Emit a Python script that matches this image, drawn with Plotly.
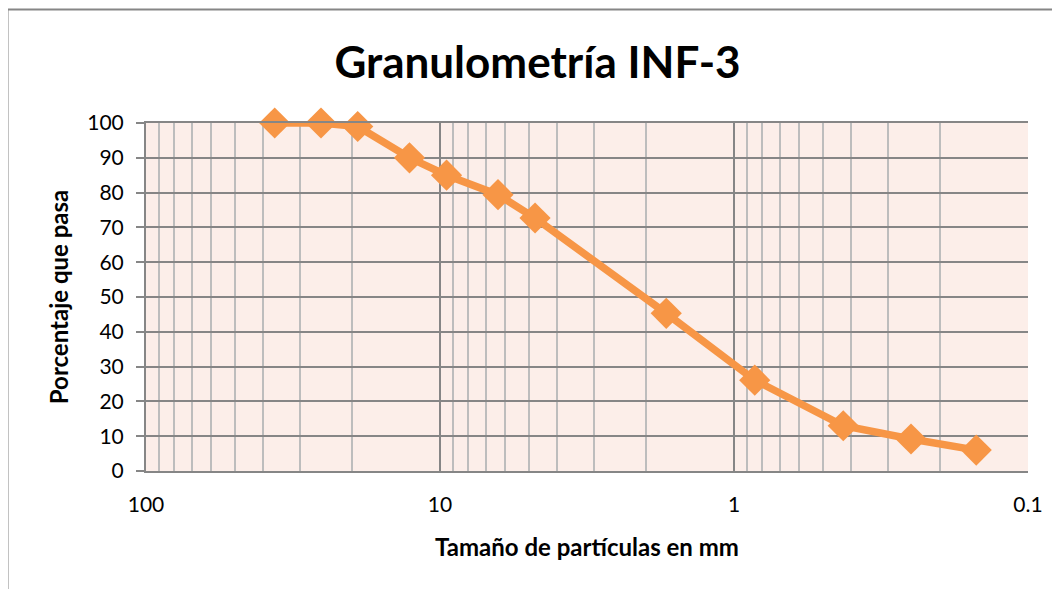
import plotly.graph_objects as go

# Data
particle_size_mm = [36.5, 25.4, 19.05, 12.7, 9.5, 6.35, 4.75, 1.7, 0.85, 0.425, 0.25, 0.15]
percent_passing = [100, 100, 99, 90, 85, 79.4, 72.7, 45.3, 26.1, 13.0, 9.2, 6.0]

title_text = "Granulometría INF-3"
x_title = "Tamaño de partículas en mm"
y_title = "Porcentaje que pasa"
x_tickvals = [100, 10, 1, 0.1]
x_ticktext = ["100", "10", "1", "0.1"]

# page is shown with an 8px body margin, so positions are shifted by 8px
W, H = 1060, 589
ML, MT = 138, 115
PW, PH = 882, 348
MR, MB = W - ML - PW, H - MT - PH

orange = "#F79646"
font_family = "Lato, Carlito, Calibri, sans-serif"

fig = go.Figure()
fig.add_trace(go.Scatter(
    x=particle_size_mm, y=percent_passing,
    mode="lines+markers",
    line=dict(color=orange, width=7.5),
    marker=dict(symbol="diamond", size=24, color=orange),
    cliponaxis=False,
    showlegend=False,
))

def px_to_paper_x(px):
    return (px - ML) / PW

def px_to_paper_y(py):
    return (H - MB - py) / PH

# outer chart border (left and top visible, others run off-screen)
fig.add_shape(type="rect", xref="paper", yref="paper",
              x0=px_to_paper_x(-0.5), x1=px_to_paper_x(1075),
              y0=px_to_paper_y(600), y1=px_to_paper_y(1.5),
              line=dict(color="#868686", width=2), layer="below")

fig.update_layout(
    width=W, height=H,
    margin=dict(l=ML, r=MR, t=MT, b=MB),
    paper_bgcolor="white",
    plot_bgcolor="#FCEEE9",
    title=dict(text=f"<b>{title_text}</b>", x=529.5 / W, xref="container", xanchor="center",
               y=1 - 55 / H, yref="container", yanchor="middle",
               font=dict(family=font_family, size=44, color="black")),
    font=dict(family=font_family, color="black"),
)

fig.update_xaxes(
    type="log", range=[2, -1],
    tickvals=x_tickvals, ticktext=x_ticktext,
    tickfont=dict(size=21, color="black"),
    ticklabelstandoff=14,
    showgrid=True, gridcolor="#868686", gridwidth=1.5,
    minor=dict(dtick="D1", showgrid=True, gridcolor="#BDBDBD", gridwidth=1.5, ticks=""),
    showline=True, linecolor="#868686", linewidth=2, mirror=True,
    ticks="", zeroline=False,
    title=dict(text=f"<b>{x_title}</b>", font=dict(size=24, color="black"), standoff=24),
)
fig.update_yaxes(
    range=[0, 100], dtick=10,
    tickfont=dict(size=21, color="black"),
    ticklabelstandoff=8,
    showgrid=True, gridcolor="#868686", gridwidth=1.5,
    showline=True, linecolor="#868686", linewidth=2,
    ticks="outside", ticklen=8, tickcolor="#868686", tickwidth=1.5,
    zeroline=False,
    title=dict(text=f"<b>{y_title}</b>", font=dict(size=24, color="black"), standoff=12),
)

fig.write_html("out.html")
